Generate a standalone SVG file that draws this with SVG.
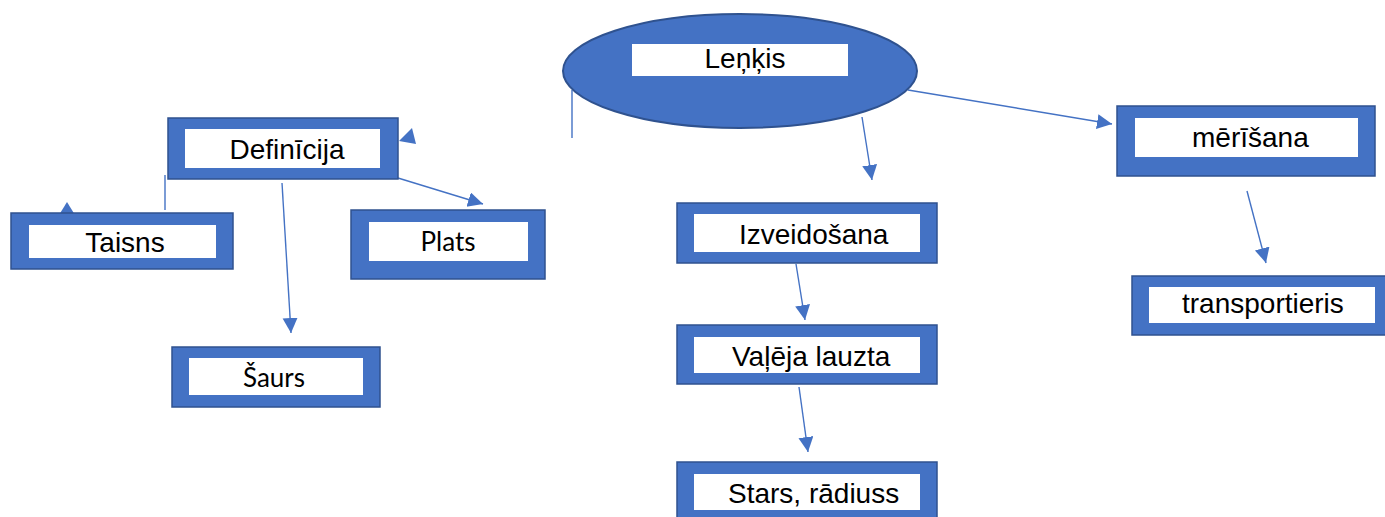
<svg xmlns="http://www.w3.org/2000/svg" width="1385" height="517" viewBox="0 0 1385 517">
<style>
.outer{fill:#4472C4;stroke:#2F528F;stroke-width:1.5}
.inner{fill:#FFFFFF}
.t{font-family:"Liberation Sans",Arial,sans-serif;font-size:28px;fill:#000}
.c{font-family:Lato,"Noto Sans",sans-serif;font-size:26px;fill:#000}
.ln{stroke:#4472C4;stroke-width:1.4;fill:none}
.ah{fill:#4472C4}
</style>
<defs>
<marker id="arr" markerUnits="userSpaceOnUse" markerWidth="16" markerHeight="16" refX="15" refY="7.5" orient="auto">
<path d="M0,0 L15,7.5 L0,15 z" fill="#4472C4"/>
</marker>
</defs>
<rect width="1385" height="517" fill="#FFFFFF"/>
<g id="connectors">
<line class="ln" x1="572" y1="90" x2="572" y2="138"/>
<line class="ln" x1="165" y1="175" x2="165" y2="210"/>
<polygon class="ah" points="399,141 412,128 416,144"/>
<polygon class="ah" points="67,202 59,215 75,215"/>
<line class="ln" x1="282" y1="183" x2="291" y2="333" marker-end="url(#arr)"/>
<line class="ln" x1="398" y1="178" x2="483" y2="204" marker-end="url(#arr)"/>
<line class="ln" x1="862" y1="117" x2="872" y2="180" marker-end="url(#arr)"/>
<line class="ln" x1="908" y1="90" x2="1112" y2="124" marker-end="url(#arr)"/>
<line class="ln" x1="796" y1="264" x2="805" y2="320" marker-end="url(#arr)"/>
<line class="ln" x1="799" y1="387" x2="808" y2="452" marker-end="url(#arr)"/>
<line class="ln" x1="1247" y1="191" x2="1266" y2="263" marker-end="url(#arr)"/>
</g>
<g id="lenkis">
<ellipse cx="740" cy="71" rx="177" ry="57" fill="#4472C4" stroke="#2F528F" stroke-width="2"/>
<rect class="inner" x="632" y="44" width="216" height="32"/>
<text class="t" x="745" y="68" text-anchor="middle">Leņķis</text>
</g>
<g id="definicija">
<rect class="outer" x="168" y="118" width="230" height="61"/>
<rect class="inner" x="185" y="129" width="195" height="39"/>
<text class="t" x="287" y="159" text-anchor="middle">Definīcija</text>
</g>
<g id="taisns">
<rect class="outer" x="11" y="213" width="222" height="56"/>
<rect class="inner" x="29" y="225" width="187" height="33"/>
<text class="t" x="125" y="252" text-anchor="middle">Taisns</text>
</g>
<g id="plats">
<rect class="outer" x="351" y="210" width="194" height="69"/>
<rect class="inner" x="369" y="222" width="159" height="39"/>
<text class="c" x="448" y="251" text-anchor="middle">Plats</text>
</g>
<g id="saurs">
<rect class="outer" x="172" y="347" width="208" height="60"/>
<rect class="inner" x="189" y="358" width="174" height="37"/>
<text class="c" x="274" y="387" text-anchor="middle">Šaurs</text>
</g>
<g id="izveidosana">
<rect class="outer" x="677" y="203" width="260" height="60"/>
<rect class="inner" x="694" y="214" width="226" height="38"/>
<text class="t" x="739" y="244">Izveidošana</text>
</g>
<g id="valeja">
<rect class="outer" x="677" y="325" width="260" height="59"/>
<rect class="inner" x="694" y="337" width="226" height="36"/>
<text class="t" x="732" y="366">Vaļēja lauzta</text>
</g>
<g id="stars">
<rect class="outer" x="677" y="462" width="260" height="70"/>
<rect class="inner" x="694" y="474" width="226" height="36"/>
<text class="t" x="728" y="503">Stars, rādiuss</text>
</g>
<g id="merisana">
<rect class="outer" x="1117" y="106" width="258" height="70"/>
<rect class="inner" x="1135" y="118" width="223" height="39"/>
<text class="t" x="1192" y="147">mērīšana</text>
</g>
<g id="transportieris">
<rect class="outer" x="1132" y="276" width="260" height="59"/>
<rect class="inner" x="1149" y="287" width="226" height="36"/>
<text class="t" x="1182" y="313">transportieris</text>
</g>
</svg>
